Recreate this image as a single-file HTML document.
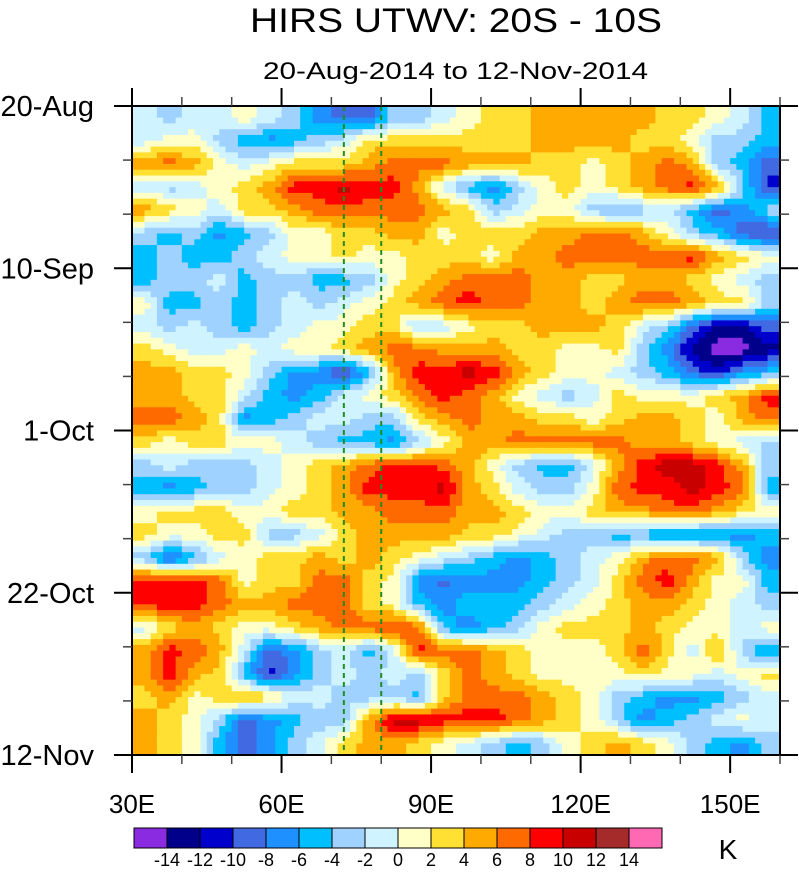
<!DOCTYPE html>
<html><head><meta charset="utf-8">
<style>
body{margin:0;background:#fff;}
svg text{font-family:"Liberation Sans",Arial,sans-serif;fill:#000;}
</style></head>
<body>
<svg id="chart" width="799" height="869" viewBox="0 0 799 869" xmlns="http://www.w3.org/2000/svg">
<text x="250" y="32" font-size="34" textLength="412" lengthAdjust="spacingAndGlyphs">HIRS UTWV: 20S - 10S</text>
<text x="263" y="79" font-size="24" textLength="385" lengthAdjust="spacingAndGlyphs">20-Aug-2014 to 12-Nov-2014</text>
<g id="field"></g>
<g id="axes"></g>
<g id="cbar"></g>
<text x="728" y="859" font-size="28" text-anchor="middle">K</text>
</svg>
<script>
// Longitude cell starts (deg E), cell width 5
const lonStarts = [30,35,40,45,50,55,60,65,70,75,80,85,90,95,100,105,110,115,120,125,130,135,140,145,150,155];
// Day offsets (from 20-Aug) of row starts, rows of 3 days
const dayStarts = [0,3,6,9,12,15,18,21,24,27,30,33,36,39,42,45,48,51,54,57,60,63,66,69,72,75,78,81];
// Anomaly values (K), one array per row
const row00=[-1,-3,-1,-1,1,-1,-3,-7,-9,-9,-3,-3,-1,1,3,3,5,5,5,5,5,3,3,1,-1,-5];
const row01=[-1,1,1,-3,-5,-7,-5,-3,-1,3,3,3,3,3,3,3,5,5,5,5,3,3,1,-3,-3,-5];
const row02=[5,7,5,1,-1,1,3,3,3,5,7,7,7,5,5,5,3,3,1,3,5,7,5,-3,-5,-9];
const row03=[-1,-3,-1,1,3,5,9,9,11,9,9,5,-1,-5,-7,-3,1,3,1,3,5,7,9,5,-3,-11];
const row04=[5,3,1,-1,3,3,5,7,7,7,7,7,5,3,-3,-1,1,1,-3,-5,-3,-1,-5,-9,-7,-3];
const row05=[-3,-5,-3,-7,-5,-3,1,1,3,3,5,5,1,3,3,3,5,5,7,7,5,1,-3,-5,-9,-11];
const row06=[-5,-3,-5,-5,-3,-1,1,1,3,1,1,3,3,3,1,5,5,7,7,7,7,7,9,5,3,1];
const row07=[-5,-3,-3,-1,-5,-3,-3,-5,-5,-3,1,3,5,7,7,7,5,5,3,3,5,5,3,1,-1,-3];
const row08=[1,-5,-5,-3,-5,-3,-1,-3,-1,1,3,5,7,9,7,7,5,5,3,5,7,7,5,3,3,-3];
const row09=[-1,-3,-1,-3,-5,-3,-1,1,1,3,3,-3,-1,1,3,3,5,5,5,3,-1,-3,-9,-13,-13,-9];
const row10=[3,1,-1,-1,1,-1,1,1,3,5,7,7,5,5,5,3,3,1,1,3,-3,-7,-13,-15,-15,-13];
const row11=[5,5,3,3,1,-3,-7,-7,-11,-5,5,9,9,11,9,5,3,1,1,-1,-3,-5,-9,-11,-7,-5];
const row12=[5,5,3,3,-1,-5,-7,-5,-1,1,3,7,9,7,5,1,-1,-3,-1,3,1,1,1,3,5,9];
const row13=[7,7,5,3,-7,-5,-3,-1,-1,-3,-3,3,5,7,5,5,3,3,1,3,5,5,3,1,5,7];
const row14=[3,1,3,3,1,1,-1,-3,-5,-5,-7,-3,1,5,5,7,7,7,7,7,5,5,3,1,-1,-3];
const row15=[-3,-1,-3,-3,-3,-1,1,3,5,7,9,9,7,5,1,-3,-5,-5,-1,5,9,11,11,9,5,-3];
const row16=[-5,-7,-5,-3,-3,-1,1,3,5,9,9,9,11,5,3,-1,-3,-3,1,7,9,9,11,9,7,-5];
const row17=[1,3,3,3,1,1,3,3,5,5,7,7,7,5,5,3,1,1,3,5,5,7,7,5,3,1];
const row18=[3,1,1,3,3,-3,-3,-1,3,5,5,5,5,3,3,1,-1,-3,-3,-5,-5,-7,-7,-7,-7,-5];
const row19=[-3,-9,-5,-1,1,3,3,5,3,5,3,1,-1,-3,-5,-7,-5,-3,-1,1,5,7,7,5,-3,-7];
const row20=[9,9,9,7,1,3,3,7,7,3,1,-7,-9,-7,-7,-7,-5,-3,-1,3,7,9,5,1,1,-5];
const row21=[9,9,9,7,5,5,7,7,7,3,1,-5,-7,-5,-5,-5,-3,-1,1,3,5,5,3,1,-1,-3];
const row22=[-1,3,5,3,1,1,3,5,7,7,9,7,-5,-7,-5,-3,1,3,3,3,5,3,1,1,-1,1];
const row23=[5,9,7,5,-1,-9,-7,-3,-1,-5,-1,9,7,7,5,3,1,1,1,3,7,3,-1,5,-3,-7];
const row24=[5,9,5,3,-5,-11,-7,-3,-1,-3,-1,-3,3,7,5,3,1,1,1,1,3,1,1,-1,1,3];
const row25=[3,5,1,3,5,3,-1,-1,-3,-3,-3,-5,3,7,7,7,5,3,1,-3,-5,-7,-7,-5,-3,-1];
const row26=[5,3,1,-3,-9,-7,-5,-3,-3,5,11,11,9,9,9,7,5,3,1,-3,-7,-5,-3,-1,1,-1];
const row27=[5,3,1,-5,-9,-7,-3,-1,3,5,5,3,1,-1,-3,-5,-3,1,3,5,3,1,-3,-5,-7,-3];
const rows=[row00,row01,row02,row03,row04,row05,row06,row07,row08,row09,row10,row11,row12,row13,row14,row15,row16,row17,row18,row19,row20,row21,row22,row23,row24,row25,row26,row27];
// Colour levels
const levels=[-14,-12,-10,-8,-6,-4,-2,0,2,4,6,8,10,12,14];
const levelLabels=["-14","-12","-10","-8","-6","-4","-2","0","2","4","6","8","10","12","14"];
const colors=["#8a2be2","#00008b","#0000cd","#4169e1","#1e90ff","#00bfff","#a0d2ff","#d0f4ff","#ffffc8","#ffe033","#ffaa00","#ff6a00","#ff0000","#c80000","#a52a2a","#ff69b4"];
const xTickMajor=[30,60,90,120,150];
const xTickLabels=["30E","60E","90E","120E","150E"];
const xTickMinor=[40,50,70,80,100,110,130,140,160];
const yTickMajor=[0,21,42,63,84];
const yTickLabels=["20-Aug","10-Sep","1-Oct","22-Oct","12-Nov"];
const yTickMinor=[7,14,28,35,49,56,70,77];
const refLons=[72.5,80];

const NS="http://www.w3.org/2000/svg";
const X0=132,X1=780,Y0=106,Y1=755,LON0=30,LON1=160,D1=84;
function xs(lon){return X0+(lon-LON0)*(X1-X0)/(LON1-LON0);}
function ys(d){return Y0+d*(Y1-Y0)/D1;}
function colorOf(v){let i=0;while(i<levels.length&&v>=levels[i])i++;return colors[i];}
function mk(tag,attrs,parent){const e=document.createElementNS(NS,tag);for(const k in attrs)e.setAttribute(k,attrs[k]);parent.appendChild(e);return e;}

const field=document.getElementById('field');
const nc=lonStarts.length,nr=rows.length,SUB=4;
function val(r,c){r=Math.max(0,Math.min(nr-1,r));c=Math.max(0,Math.min(nc-1,c));return rows[r][c];}
function sample(fr,fc){const r0=Math.floor(fr),c0=Math.floor(fc),tr=fr-r0,tc=fc-c0;
 return (val(r0,c0)*(1-tc)+val(r0,c0+1)*tc)*(1-tr)+(val(r0+1,c0)*(1-tc)+val(r0+1,c0+1)*tc)*tr;}
for(let r=0;r<nr;r++){
 for(let c=0;c<nc;c++){
  const cell=mk('g',{},field);
  
  
  const lonA=lonStarts[c],lonB=lonA+5,dA=dayStarts[r],dB=dA+3;
  for(let i=0;i<SUB;i++)for(let j=0;j<SUB;j++){
   const fr=r+(i+0.5)/SUB-0.5, fc=c+(j+0.5)/SUB-0.5;
   const v=sample(fr,fc);
   const xa=xs(lonA+(lonB-lonA)*j/SUB),xb=xs(lonA+(lonB-lonA)*(j+1)/SUB);
   const ya=ys(dA+(dB-dA)*i/SUB),yb=ys(dA+(dB-dA)*(i+1)/SUB);
   mk('rect',{x:xa.toFixed(2),y:ya.toFixed(2),width:(xb-xa+0.6).toFixed(2),height:(yb-ya+0.6).toFixed(2),fill:colorOf(v)},cell);
  }
 }
}
const axes=document.getElementById('axes');
refLons.forEach(l=>{const e=mk('line',{x1:xs(l),x2:xs(l),y1:Y0,y2:Y1,stroke:'#228b22','stroke-width':2,'stroke-dasharray':'5,4'},axes);
 
 });
const frame=mk('rect',{x:X0,y:Y0,width:X1-X0,height:Y1-Y0,fill:'none',stroke:'#000','stroke-width':2},axes);


xTickMajor.forEach((l,i)=>{const x=xs(l);
 mk('line',{x1:x,x2:x,y1:Y1,y2:Y1+18,stroke:'#000','stroke-width':2},axes);
 mk('line',{x1:x,x2:x,y1:Y0,y2:Y0-18,stroke:'#000','stroke-width':2},axes);
 const t=mk('text',{x:x,y:813,'font-size':26,'text-anchor':'middle'},axes);t.textContent=xTickLabels[i];
 
 });
xTickMinor.forEach(l=>{const x=xs(l);
 mk('line',{x1:x,x2:x,y1:Y1,y2:Y1+9,stroke:'#444','stroke-width':1.5},axes);
 mk('line',{x1:x,x2:x,y1:Y0,y2:Y0-9,stroke:'#444','stroke-width':1.5},axes);});
yTickMajor.forEach((d,i)=>{const y=ys(d);
 mk('line',{x1:X0-18,x2:X0,y1:y,y2:y,stroke:'#000','stroke-width':2},axes);
 mk('line',{x1:X1,x2:X1+18,y1:y,y2:y,stroke:'#000','stroke-width':2},axes);
 const t=mk('text',{x:94,y:y+10,'font-size':29,'text-anchor':'end'},axes);t.textContent=yTickLabels[i];
 
 });
yTickMinor.forEach(d=>{const y=ys(d);
 mk('line',{x1:X0-9,x2:X0,y1:y,y2:y,stroke:'#444','stroke-width':1.5},axes);
 mk('line',{x1:X1,x2:X1+9,y1:y,y2:y,stroke:'#444','stroke-width':1.5},axes);});
const cbar=document.getElementById('cbar');
const CB0=134,CBW=33,CBY=828,CBH=20;
colors.forEach((col,i)=>{const r=mk('rect',{x:CB0+i*CBW,y:CBY,width:CBW,height:CBH,fill:col,stroke:'#000','stroke-width':1},cbar);
 
 });
levelLabels.forEach((s,i)=>{const t=mk('text',{x:CB0+(i+1)*CBW,y:866,'font-size':18,'text-anchor':'middle'},cbar);t.textContent=s;
 
 });
</script>
</body></html>
